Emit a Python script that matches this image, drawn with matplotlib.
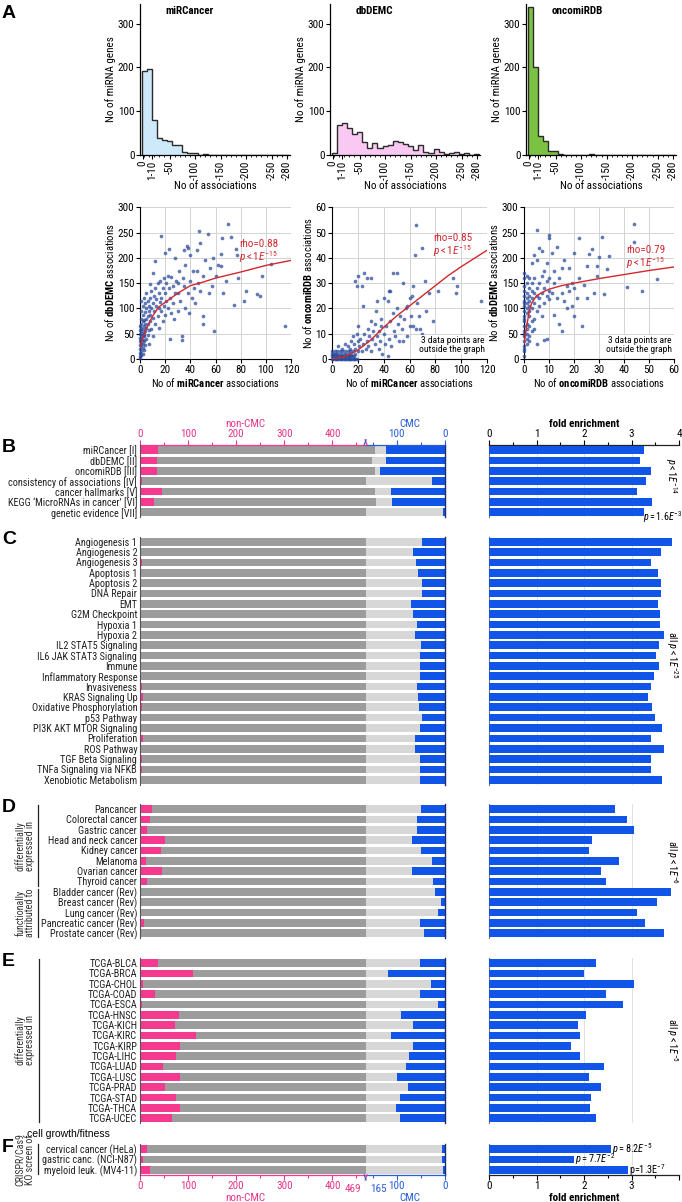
import numpy as np
import matplotlib
matplotlib.use('Agg')
import matplotlib.pyplot as plt
from matplotlib import font_manager
from matplotlib.transforms import blended_transform_factory

W, H = 682, 1202

# pick a narrow sans font if one is installed (the figure uses a condensed face)
names = {f.name for f in font_manager.fontManager.ttflist}
cands = ['Liberation Sans Narrow', 'Roboto Condensed', 'Open Sans Condensed', 'Noto Sans Condensed',
         'DejaVu Sans Condensed']
FONT = next((c for c in cands if c in names), None)
STRETCH = 'normal'
if FONT is None:
    cond = sorted({f.name for f in font_manager.fontManager.ttflist
                   if str(f.stretch) in ('condensed', 'semi-condensed', 'extra-condensed')
                   and 'Mono' not in f.name and 'Serif' not in f.name and 'CJK' not in f.name})
    if cond:
        FONT = cond[0]
        STRETCH = 'condensed'
NARROW = FONT is not None
if FONT is None:
    FONT = 'Liberation Sans'
plt.rcParams['font.family'] = [FONT, 'DejaVu Sans']
plt.rcParams['font.stretch'] = STRETCH
plt.rcParams['mathtext.fontset'] = 'custom'
plt.rcParams['mathtext.rm'] = FONT
plt.rcParams['mathtext.it'] = FONT + ':italic'
plt.rcParams['mathtext.bf'] = FONT + ':bold'

FS = 8.0 if NARROW else 6.8      # axis / tick text
LS = 7.4 if NARROW else 6.3      # row labels

# ---------------- data: panel A histograms (bins 0, 1-10, 11-20, ... 271-280)
hist_names = ['miRCancer', 'dbDEMC', 'oncomiRDB']
hist_mircancer = [192, 197, 80, 38, 34, 32, 22, 22, 6, 4, 4, 1, 3, 1, 1, 1, 1,
                  0, 0, 0, 0, 0, 0, 0, 0, 0, 0, 0, 1]
hist_dbdemc = [5, 68, 74, 62, 49, 53, 29, 17, 27, 16, 21, 23, 31, 29, 25, 20, 12,
               23, 6, 4, 13, 6, 3, 5, 6, 2, 5, 1, 3]
hist_oncomirdb = [338, 200, 43, 32, 10, 8, 2, 1, 1, 1, 0, 0, 2, 0, 0, 0, 0,
                  0, 0, 0, 0, 0, 0, 0, 0, 0, 0, 0, 0]
hist_ticks = [-0.25, 1.6, 5, 10, 15, 20, 25, 28]
hist_ticklabels = ['0', '1-10', '-50', '-100', '-150', '-200', '-250', '-280']

# ---------------- data: panel A scatter plots
sc1_x = [0, 0, 0, 0, 0, 0, 0, 0, 0, 0, 1, 1, 1, 1, 1, 1, 1, 1, 1, 1, 1, 1, 2, 2, 2, 2, 2, 2, 2, 2, 2, 2,
         3, 3, 3, 3, 3, 3, 3, 4, 4, 4, 4, 4, 5, 5, 5, 5, 5, 6, 6, 6, 6, 7, 7, 7, 7, 8, 8, 8, 8, 9, 9, 9,
         10, 10, 10, 10, 11, 11, 12, 12, 12, 13, 13, 14, 14, 15, 15, 15, 16, 16, 17, 17, 17, 18, 18, 19, 19,
         20, 20, 20, 21, 21, 22, 22, 23, 23, 24, 24, 25, 25, 26, 26, 27, 28, 28, 29, 30, 30, 30, 31, 32, 33,
         33, 34, 35, 35, 36, 36, 37, 38, 38, 39, 40, 40, 41, 42, 43, 44, 45, 45, 46, 47, 48, 48, 50, 50, 50,
         52, 54, 55, 56, 57, 58, 59, 60, 62, 64, 64, 65, 66, 68, 70, 72, 75, 76, 77, 78, 83, 84, 93, 95, 97,
         104, 115]
sc1_y = [5, 12, 20, 28, 35, 42, 50, 58, 65, 2, 8, 15, 25, 32, 40, 48, 55, 62, 70, 80, 95, 115, 10, 22, 30, 38, 45, 52, 60, 75, 88, 105,
         18, 35, 50, 65, 78, 120, 45, 28, 55, 70, 92, 110, 40, 62, 80, 100, 130, 48, 70, 85, 115, 30, 58, 95, 105, 75, 88, 120, 148, 60, 100, 135,
         45, 82, 110, 170, 95, 125, 70, 140, 193, 105, 118, 85, 150, 100, 130, 62, 112, 155, 244, 120, 95, 140, 75, 105, 160,
         130, 210, 88, 150, 115, 165, 100, 218, 140, 40, 120, 163, 90, 145, 110, 80, 200, 130, 155, 130, 150, 95, 175, 115, 45,
         37, 160, 215, 145, 100, 185, 223, 220, 130, 90, 205, 155, 120, 175, 140, 110, 175, 215, 150, 254, 230, 135, 86, 70, 165,
         195, 247, 130, 180, 145, 200, 55, 165, 185, 208, 183, 240, 130, 155, 266, 242, 107, 217, 205, 160, 115, 135, 128, 125, 165,
         187, 66]
fit1_x = [0, 2, 5, 10, 15, 20, 30, 40, 50, 60, 80, 100, 120]
fit1_y = [22, 40, 60, 85, 103, 112, 130, 145, 152, 160, 172, 185, 195]

sc2_x = [0, 1, 2, 3, 4, 5, 6, 7, 8, 9, 10, 11, 12, 13, 14, 15, 16, 17, 18, 19,
         0, 1, 2, 3, 4, 5, 6, 7, 8, 9, 10, 11, 12, 13, 14, 15, 16, 17,
         0, 1, 2, 3, 5, 7, 9, 11, 13, 15, 18, 0, 2, 4, 6, 8, 10, 12, 14, 16, 20,
         5, 8, 10, 12, 14, 15, 16, 17, 18, 19, 20, 20, 21, 22, 23, 24, 24, 25, 26, 27, 28, 28, 29, 30, 30,
         31, 32, 33, 33, 34, 35, 35, 36, 36, 37, 38, 38, 39, 40, 40, 41, 42, 43, 43, 44, 44, 45, 45, 46,
         47, 47, 48, 49, 50, 50, 51, 52, 53, 54, 55, 55, 56, 57, 58, 58, 60, 60, 61, 62, 63, 63, 64, 65,
         65, 66, 67, 68, 70, 70, 72, 73, 75, 75, 78, 82, 94, 96, 97, 115, 18, 19, 20, 23, 25, 27, 30]
sc2_y = [0, 0, 0, 0, 0, 0, 0, 0, 0, 0, 0, 0, 0, 0, 0, 0, 0, 0, 0, 0,
         1, 1, 1, 1, 1, 1, 1, 1, 1, 1, 1, 1, 1, 1, 1, 1, 1, 1,
         2, 2, 2, 2, 2, 2, 2, 2, 2, 2, 2, 3, 3, 3, 3, 3, 3, 3, 3, 3, 3,
         5, 4, 6, 5, 4, 7, 9, 6, 4, 10, 13, 7, 5, 8, 3, 6, 21, 10, 4, 7, 12, 5, 9, 3, 15,
         8, 11, 6, 14, 19, 23, 9, 11, 4, 7, 13, 16, 2, 10, 24, 6, 13, 23, 1, 27, 8, 27, 15, 5,
         34, 18, 11, 9, 34, 20, 14, 7, 17, 12, 30, 7, 16, 20, 21, 9, 13, 24, 17, 25, 29, 13, 41, 53,
         12, 22, 17, 12, 44, 10, 31, 19, 26, 8, 15, 27, 32, 26, 29, 23, 31, 29, 33, 29, 34, 32, 32]
fit2_x = [0, 10, 20, 30, 40, 50, 60, 70, 80, 90, 100, 120]
fit2_y = [0, 1, 3.5, 7.5, 12.5, 17, 21, 25, 29, 33, 36.5, 43]

sc3_x = [0, 0, 0, 0, 0, 0, 0, 0, 0, 0, 0, 0, 0, 0, 0, 0, 0, 0, 0, 0, 0,
         1, 1, 1, 1, 1, 1, 1, 1, 1, 1, 1, 1, 2, 2, 2, 2, 2, 2, 2, 2, 2, 2,
         3, 3, 3, 3, 3, 3, 3, 4, 4, 4, 4, 4, 4, 5, 5, 5, 5, 5, 5, 6, 6, 6, 6,
         7, 7, 7, 7, 8, 8, 8, 8, 9, 9, 9, 9, 10, 10, 10, 10, 10, 11, 11, 12, 12, 12,
         13, 13, 14, 14, 15, 15, 15, 16, 16, 17, 17, 18, 18, 19, 19, 20, 20, 20,
         21, 22, 22, 23, 24, 25, 25, 26, 27, 28, 29, 29, 30, 31, 32, 33, 34, 41, 44, 44, 47, 53]
sc3_y = [5, 15, 25, 35, 45, 55, 65, 75, 85, 95, 105, 115, 125, 135, 145, 160, 170, 20, 50, 80, 110,
         30, 40, 60, 70, 90, 100, 120, 130, 150, 165, 50, 110, 45, 65, 85, 105, 125, 140, 160, 35, 115, 95,
         55, 75, 100, 120, 150, 190, 135, 80, 110, 130, 160, 205, 60, 95, 125, 140, 195, 255, 30, 105, 150, 220, 120,
         130, 213, 165, 85, 37, 110, 140, 175, 40, 125, 155, 190, 118, 245, 240, 135, 160, 210, 130, 88, 150, 175,
         222, 120, 70, 160, 55, 180, 130, 196, 115, 145, 100, 180, 135, 150, 105, 86, 210, 140,
         120, 240, 160, 66, 147, 183, 120, 208, 217, 130, 165, 183, 202, 242, 128, 178, 203, 143, 266, 232, 135, 158]
fit3_x = [0, 1, 2, 3, 5, 7, 10, 15, 20, 30, 40, 50, 60]
fit3_y = [30, 62, 92, 110, 125, 131, 138, 145, 150, 159, 167, 175, 182]

# ---------------- data: panels B-F (non-CMC total 469, CMC total 165)
N_NON, N_CMC = 469, 165

labels_B = ['miRCancer [I]', 'dbDEMC [II]', 'oncomiRDB [III]', 'consistency of associations [IV]',
            'cancer hallmarks [V]', 'KEGG \u2018MicroRNAs in cancer\u2019 [VI]', 'genetic evidence [VII]']
pink_B = [38, 36, 36, 4, 45, 30, 0]
ngray_B = [489, 483, 489, 469, 489, 491, 469]
blue_B = [122, 122, 136, 27, 113, 111, 4]
fe_B = [3.27, 3.17, 3.40, 3.31, 3.11, 3.43, 3.27]

labels_C = ['Angiogenesis 1', 'Angiogenesis 2', 'Angiogenesis 3', 'Apoptosis 1', 'Apoptosis 2', 'DNA Repair',
            'EMT', 'G2M Checkpoint', 'Hypoxia 1', 'Hypoxia 2', 'IL2 STAT5 Signaling', 'IL6 JAK STAT3 Signaling',
            'Immune', 'Inflammatory Response', 'Invasiveness', 'KRAS Signaling Up', 'Oxidative Phosphorylation',
            'p53 Pathway', 'PI3K AKT MTOR Signaling', 'Proliferation', 'ROS Pathway', 'TGF Beta Signaling',
            'TNFa Signaling via NFKB', 'Xenobiotic Metabolism']
pink_C = [1, 2, 5, 3, 2, 1, 3, 3, 2, 3, 3, 3, 2, 3, 5, 6, 5, 2, 2, 6, 1, 5, 5, 2]
blue_C = [48, 67, 61, 57, 48, 48, 70, 67, 58, 62, 49, 52, 52, 53, 58, 57, 55, 47, 52, 62, 62, 53, 53, 52]
fe_C = [3.85, 3.63, 3.42, 3.55, 3.63, 3.63, 3.55, 3.60, 3.61, 3.68, 3.57, 3.51, 3.57, 3.47, 3.40, 3.34,
        3.43, 3.50, 3.64, 3.42, 3.68, 3.42, 3.42, 3.64]

labels_D = ['Pancancer', 'Colorectal cancer', 'Gastric cancer', 'Head and neck cancer', 'Kidney cancer',
            'Melanoma', 'Ovarian cancer', 'Thyroid cancer', 'Bladder cancer (Rev)', 'Breast cancer (Rev)',
            'Lung cancer (Rev)', 'Pancreatic cancer (Rev)', 'Prostate cancer (Rev)']
pink_D = [24, 21, 15, 53, 43, 12, 45, 15, 0, 1, 2, 8, 1]
blue_D = [49, 58, 58, 68, 49, 27, 68, 24, 20, 9, 14, 52, 43]
fe_D = [2.65, 2.90, 3.06, 2.17, 2.10, 2.74, 2.36, 2.47, 3.84, 3.54, 3.11, 3.28, 3.68]

labels_E = ['TCGA-BLCA', 'TCGA-BRCA', 'TCGA-CHOL', 'TCGA-COAD', 'TCGA-ESCA', 'TCGA-HNSC', 'TCGA-KICH',
            'TCGA-KIRC', 'TCGA-KIRP', 'TCGA-LIHC', 'TCGA-LUAD', 'TCGA-LUSC', 'TCGA-PRAD', 'TCGA-STAD',
            'TCGA-THCA', 'TCGA-UCEC']
pink_E = [38, 110, 7, 31, 5, 81, 72, 116, 83, 74, 48, 84, 52, 75, 84, 66]
blue_E = [53, 118, 29, 53, 14, 91, 66, 113, 66, 74, 81, 100, 77, 93, 101, 93]
fe_E = [2.25, 2.01, 3.06, 2.47, 2.83, 2.05, 1.87, 1.92, 1.73, 1.92, 2.42, 2.11, 2.35, 2.14, 2.13, 2.26]

labels_F = ['cervical cancer (HeLa)', 'gastric canc. (NCI-N87)', 'myeloid leuk. (MV4-11)']
pink_F = [14, 7, 20]
blue_F = [6, 7, 5]
fe_F = [2.56, 1.78, 2.92]
ptext_F = [r'$\it{p=8.2E}^{-5}$', r'$\it{p=7.7E}^{-2}$', r'p=1.3E$^{-7}$']

# ---------------- styling
PINK = '#f4398f'
PINK_T = '#e4378a'
DGRAY = '#9c9c9c'
LGRAY = '#d7d7d7'
BLUE = '#1155e8'
BLUE_T = '#2a5ed6'
NAVY = '#1b2f6e'
DOT = '#2c4d9e'
RED = '#d2282e'
ROW = 10.35
BH = 0.74
TOT = N_NON + N_CMC


def box(x0, y0, x1, y1):
    return [x0 / W, 1 - y1 / H, (x1 - x0) / W, (y1 - y0) / H]


def ftext(x, y, s, **kw):
    fig.text(x / W, 1 - y / H, s, **kw)


def fline(x0, y0, x1, y1, **kw):
    fig.add_artist(plt.Line2D([x0 / W, x1 / W], [1 - y0 / H, 1 - y1 / H], **kw))


fig = plt.figure(figsize=(W / 100, H / 100), dpi=100)

ftext(2, 14, 'A', fontsize=14, fontweight='bold', va='center', family='Liberation Sans', stretch='normal')

# ---------------- histograms
hist_x = [140, 330, 526]
hist_cols = ['#cde9fa', '#f9c8f3', '#7cc242']
for k, counts in enumerate([hist_mircancer, hist_dbdemc, hist_oncomirdb]):
    ax = fig.add_axes(box(hist_x[k], 4, hist_x[k] + 150, 155))
    edges = np.arange(len(counts) + 1) - 0.5
    ax.stairs(counts, edges, fill=True, facecolor=hist_cols[k], edgecolor='#2b2b2b', lw=1.0)
    ax.set_xlim(-0.8, 28.6)
    ax.set_ylim(0, 345)
    ax.set_yticks([0, 100, 200, 300])
    ax.set_xticks(hist_ticks)
    ax.set_xticklabels(hist_ticklabels, rotation=90)
    ax.set_xticks(np.arange(29), minor=True)
    ax.tick_params(axis='both', labelsize=FS, length=3, width=0.8, pad=1)
    ax.tick_params(axis='x', which='minor', length=1.5, width=0.6)
    for s in ['top', 'right']:
        ax.spines[s].set_visible(False)
    for s in ['left', 'bottom']:
        ax.spines[s].set_linewidth(0.9)
    ax.set_ylabel('No of miRNA genes', fontsize=FS, labelpad=1)
    ax.set_xlabel('No of associations', fontsize=FS, labelpad=1)
    ax.text(0.17, 0.985, hist_names[k], transform=ax.transAxes, fontsize=FS,
            fontweight='bold', va='top', ha='left')

# ---------------- scatter plots
sc_boxes = [(140, 291), (332, 487), (524, 674)]
sc_data = [(sc1_x, sc1_y, fit1_x, fit1_y, 120, 300, 20, 50),
           (sc2_x, sc2_y, fit2_x, fit2_y, 120, 60, 20, 10),
           (sc3_x, sc3_y, fit3_x, fit3_y, 60, 300, 10, 50)]
sc_xlab = [r'No of $\bf{miRCancer}$ associations', r'No of $\bf{miRCancer}$ associations',
           r'No of $\bf{oncomiRDB}$ associations']
sc_ylab = [r'No of $\bf{dbDEMC}$ associations', r'No of $\bf{oncomiRDB}$ associations',
           r'No of $\bf{dbDEMC}$ associations']
sc_rho = ['rho=0.88', 'rho=0.85', 'rho=0.79']
sc_txt_pos = [(79, 227, 201), (78, 48, 42.5), (41, 215, 189)]
for k, (x0, x1) in enumerate(sc_boxes):
    xs, ys, fx, fy, xmax, ymax, xst, yst = sc_data[k]
    ax = fig.add_axes(box(x0, 207.3, x1, 359))
    ax.scatter(xs, ys, s=7, color=DOT, alpha=0.75, linewidths=0, zorder=3, clip_on=False)
    ax.plot(fx, fy, color=RED, lw=1.0, zorder=4)
    ax.set_xlim(0, xmax)
    ax.set_ylim(0, ymax)
    ax.set_xticks(np.arange(0, xmax + 1, xst))
    ax.set_yticks(np.arange(0, ymax + 1, yst))
    ax.grid(color='#d3d3d3', lw=0.7)
    ax.set_axisbelow(True)
    ax.tick_params(axis='both', labelsize=FS, length=3, width=0.8, pad=1)
    for s in ['top', 'right']:
        ax.spines[s].set_visible(False)
    ax.set_xlabel(sc_xlab[k], fontsize=FS - 0.3, labelpad=1)
    ax.set_ylabel(sc_ylab[k], fontsize=FS - 0.3, labelpad=1)
    tx, ty1, ty2 = sc_txt_pos[k]
    ax.text(tx, ty1, sc_rho[k], color=RED, fontsize=FS, va='center', zorder=5)
    ax.text(tx, ty2, r'$\it{p<1E}^{-15}$', color=RED, fontsize=FS, va='center', zorder=5)
    if k > 0:
        ax.text(0.985, 0.035, '3 data points are\noutside the graph', transform=ax.transAxes,
                fontsize=FS - 1.2, ha='right', va='bottom', linespacing=1.0, zorder=6,
                bbox=dict(facecolor='white', edgecolor='none', pad=0.5))


# ---------------- bar panels
def panel(first_y, labels, pink, blue, fe, ngray=None, letter=None, top=False, bottom=False):
    n = len(labels)
    if ngray is None:
        ngray = [N_NON] * n
    y0 = first_y - 0.5 * ROW
    y1 = y0 + n * ROW
    pos = np.arange(n)
    pink = np.array(pink, dtype=float)
    ngray = np.array(ngray, dtype=float)
    blue = np.array(blue, dtype=float)

    ax = fig.add_axes(box(140, y0, 445, y1))
    ax.barh(pos, pink, height=BH, color=PINK, lw=0)
    ax.barh(pos, ngray - pink, left=pink, height=BH, color=DGRAY, lw=0)
    ax.barh(pos, TOT - blue - ngray, left=ngray, height=BH, color=LGRAY, lw=0)
    ax.barh(pos, blue, left=TOT - blue, height=BH, color=BLUE, lw=0)
    ax.set_xlim(0, TOT)
    ax.set_ylim(n - 0.5, -0.5)
    ax.set_yticks(pos)
    ax.set_yticklabels(labels)
    ax.tick_params(axis='y', length=0, pad=2, labelsize=LS, labelcolor='#222222')
    ax.spines['top'].set_visible(False)
    ax.spines['bottom'].set_visible(False)
    ax.spines['left'].set_color('#555555')
    ax.spines['left'].set_linewidth(0.8)
    ax.spines['right'].set_color(NAVY)
    ax.spines['right'].set_linewidth(1.0)
    ax.set_xticks([])

    ax2 = fig.add_axes(box(489, y0, 679, y1))
    ax2.barh(pos, fe, height=BH, color=BLUE, lw=0, zorder=3)
    ax2.set_xlim(0, 4)
    ax2.set_ylim(n - 0.5, -0.5)
    for g in [1, 2, 3, 4]:
        ax2.axvline(g, color='#dcdcdc', lw=0.6, zorder=0)
    ax2.set_yticks([])
    ax2.set_xticks([])
    for s in ['top', 'bottom', 'right']:
        ax2.spines[s].set_visible(False)
    ax2.spines['left'].set_color('#777777')
    ax2.spines['left'].set_linewidth(0.8)

    if letter:
        ftext(2, first_y - 2, letter, fontsize=14, fontweight='bold', va='center',
              family='Liberation Sans', stretch='normal')

    for side in (['top'] if top else []) + (['bottom'] if bottom else []):
        yax = 1 if side == 'top' else 0
        tr = blended_transform_factory(ax.transData, ax.transAxes)
        ax.plot([0, N_NON], [yax, yax], transform=tr, color=PINK, lw=0.9, clip_on=False)
        ax.plot([N_NON, TOT], [yax, yax], transform=tr, color=BLUE_T, lw=0.9, clip_on=False)
        axb = ax.twiny()
        axb.set_xlim(0, TOT)
        axb.set_xticks([TOT - 100, TOT])
        axb.set_xticklabels(['100', '0'])
        axb.set_xticks([TOT - 150, TOT - 50], minor=True)
        axb.tick_params(axis='x', which='both', colors=BLUE_T, labelsize=FS, pad=1, width=0.8)
        axb.tick_params(axis='x', which='major', length=3.5)
        axb.tick_params(axis='x', which='minor', length=2)
        axb.xaxis.set_ticks_position(side)
        axb.xaxis.set_label_position(side)
        for s in axb.spines.values():
            s.set_visible(False)
        # twiny moves the host ticks to the bottom, so place them after it
        ax.set_xticks([0, 100, 200, 300, 400])
        ax.set_xticklabels(['0', '100', '200', '300', '400'])
        ax.set_xticks([50, 150, 250, 350, 450], minor=True)
        ax.tick_params(axis='x', which='both', colors=PINK_T, labelsize=FS, pad=1, width=0.8)
        ax.tick_params(axis='x', which='major', length=3.5)
        ax.tick_params(axis='x', which='minor', length=2)
        ax.xaxis.set_ticks_position(side)
        # junction ticks at 469 / 165
        sgn = 1 if side == 'top' else -1
        dy = sgn * 5.0 / (n * ROW)
        ax.plot([N_NON + 3, N_NON - 1], [yax, yax + dy], transform=tr, color=PINK, lw=0.9, clip_on=False)
        ax.plot([N_NON - 3, N_NON + 1], [yax, yax + dy], transform=tr, color=BLUE_T, lw=0.9, clip_on=False)

        ax2.spines[side].set_visible(True)
        ax2.spines[side].set_color('#222222')
        ax2.spines[side].set_linewidth(0.9)
        ax2.xaxis.set_ticks_position(side)
        ax2.set_xticks([0, 1, 2, 3, 4])
        ax2.set_xticklabels(['0', '1', '2', '3', '4'] if side == 'top' else ['0', '1', '2', '3', ''])
        ax2.set_xticks([0.5, 1.5, 2.5, 3.5], minor=True)
        ax2.tick_params(axis='x', which='both', labelsize=FS, pad=1, width=0.8)
        ax2.tick_params(axis='x', which='major', length=3.5)
        ax2.tick_params(axis='x', which='minor', length=2)
    return ax, ax2


panel(450, labels_B, pink_B, blue_B, fe_B, ngray=ngray_B, letter='B', top=True)
ftext(245, 424, 'non-CMC', color=PINK_T, fontsize=FS, ha='center', va='center')
ftext(410, 424, 'CMC', color=BLUE_T, fontsize=FS, ha='center', va='center')
ftext(584, 424, 'fold enrichment', fontsize=FS, ha='center', va='center', fontweight='bold')
ftext(671, 476, r'$\it{p<1E}^{-14}$', fontsize=LS, rotation=270, ha='center', va='center')
ftext(643, 517, r'$\it{p=1.6E}^{-3}$', fontsize=FS - 0.8, ha='left', va='center')

panel(541.7, labels_C, pink_C, blue_C, fe_C, letter='C')
ftext(672, 655, r'all $\it{p<1E}^{-25}$', fontsize=LS, rotation=270, ha='center', va='center')

panel(809, labels_D, pink_D, blue_D, fe_D, letter='D')
ftext(672, 862, r'all $\it{p<1E}^{-6}$', fontsize=LS, rotation=270, ha='center', va='center')
ftext(25, 846, 'differentially\nexpressed in', fontsize=LS - 0.2, rotation=90, ha='center', va='center',
      color='#333333', linespacing=1.0)
fline(38, 805, 38, 886, color='#222222', lw=0.9)
ftext(25, 913, 'functionally\nattributed to', fontsize=LS - 0.2, rotation=90, ha='center', va='center',
      color='#333333', linespacing=1.0)
fline(38, 889, 38, 937, color='#222222', lw=0.9)

panel(963, labels_E, pink_E, blue_E, fe_E, letter='E')
ftext(672, 1040, r'all $\it{p<1E}^{-5}$', fontsize=LS, rotation=270, ha='center', va='center')
ftext(25, 1040, 'differentially\nexpressed in', fontsize=LS - 0.2, rotation=90, ha='center', va='center',
      color='#333333', linespacing=1.0)
fline(39, 959, 39, 1122, color='#222222', lw=0.9)

axF, axF2 = panel(1149, labels_F, pink_F, blue_F, fe_F, letter='F', bottom=True)
for i, t in enumerate(ptext_F):
    axF2.text(fe_F[i] + 0.03, i, t, fontsize=FS - 0.6, va='center', ha='left', zorder=5)
ftext(27, 1134, 'cell growth/fitness', fontsize=7.5, ha='left', va='center',
      family='Liberation Sans', stretch='normal')
ftext(25, 1160, 'CRISPR/Cas9\nKO screen of', fontsize=LS - 0.2, rotation=90, ha='center', va='center',
      color='#333333', linespacing=1.0)
fline(38, 1144, 38, 1174, color='#222222', lw=0.9)
ftext(361, 1189, '469', color=PINK_T, fontsize=FS, ha='right', va='center')
ftext(370, 1189, '165', color=BLUE_T, fontsize=FS, ha='left', va='center')
ftext(245, 1198, 'non-CMC', color=PINK_T, fontsize=FS, ha='center', va='center')
ftext(410, 1198, 'CMC', color=BLUE_T, fontsize=FS, ha='center', va='center')
ftext(584, 1198, 'fold enrichment', fontsize=FS, ha='center', va='center', fontweight='bold')

fig.savefig('out.png', dpi=100)
